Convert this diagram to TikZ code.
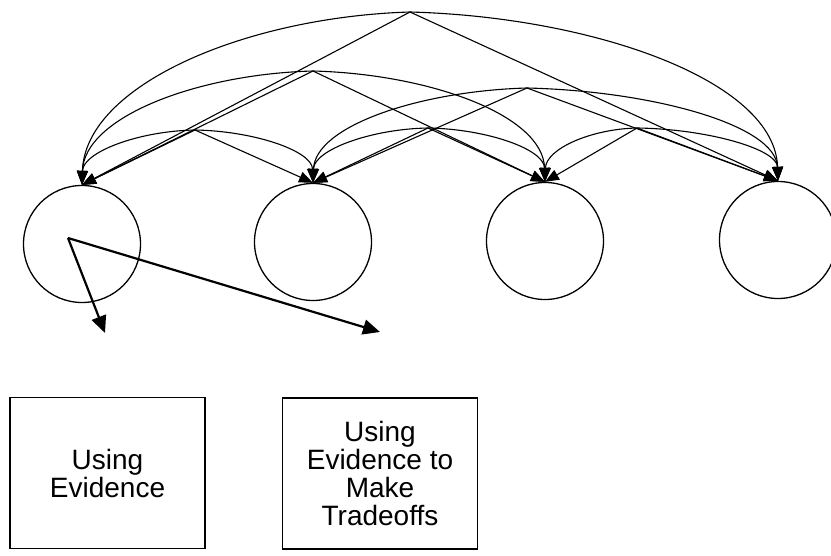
\documentclass[tikz,border=0pt]{standalone}
\usepackage{fontspec}
\setmainfont{Liberation Sans}
\usetikzlibrary{arrows.meta}
\begin{document}
\begin{tikzpicture}[x=1pt,y=1pt,
  ring/.style={circle,draw,line width=1.3pt,minimum size=117pt,inner sep=0pt},
  conn/.style={line width=1.1pt,-{Triangle[length=14pt,width=11pt]}},
  bigarrow/.style={line width=2.2pt,-{Triangle[length=17pt,width=15pt]}},
  label box/.style={draw,line width=1.5pt,minimum width=195pt,minimum height=151pt,
    align=center,inner sep=0pt,font=\fontsize{28}{28}\selectfont}]
\useasboundingbox (0,0) rectangle (831,555);
% circles
\node[ring] (c1) at (82,311) {};
\node[ring] (c2) at (313,313) {};
\node[ring] (c3) at (545,314) {};
\node[ring] (c4) at (778,315) {};
% peaks
\coordinate (p14) at (410,543);
\coordinate (p13) at (313,484);
\coordinate (p24) at (527,467);
\coordinate (p12) at (195,425);
\coordinate (p23) at (428,427);
\coordinate (p34) at (637,427);
% straight connectors
\draw[conn] (p14) -- (c1.north);
\draw[conn] (p14) -- (c4.north);
\draw[conn] (p13) -- (c1.north);
\draw[conn] (p13) -- (c3.north);
\draw[conn] (p24) -- (c2.north);
\draw[conn] (p24) -- (c4.north);
\draw[conn] (p12) -- (c1.north);
\draw[conn] (p12) -- (c2.north);
\draw[conn] (p23) -- (c2.north);
\draw[conn] (p23) -- (c3.north);
\draw[conn] (p34) -- (c3.north);
\draw[conn] (p34) -- (c4.north);
% curved connectors
\draw[conn] (p14) .. controls +(-164,-5) and +(3,100) .. (c1.north);
\draw[conn] (p14) .. controls +(184,-5) and +(-3,100) .. (c4.north);
\draw[conn] (p13) .. controls +(-115,-3) and +(2,68) .. (c1.north);
\draw[conn] (p13) .. controls +(116,-3) and +(-2,67) .. (c3.north);
\draw[conn] (p24) .. controls +(-107,-3) and +(2,57) .. (c2.north);
\draw[conn] (p24) .. controls +(125,-3) and +(-2,56) .. (c4.north);
\draw[conn] (p12) .. controls +(-56,-1) and +(1,33) .. (c1.north);
\draw[conn] (p12) .. controls +(59,-1) and +(-1,32) .. (c2.north);
\draw[conn] (p23) .. controls +(-57,-1) and +(1,33) .. (c2.north);
\draw[conn] (p23) .. controls +(58,-1) and +(-1,33) .. (c3.north);
\draw[conn] (p34) .. controls +(-46,-1) and +(1,33) .. (c3.north);
\draw[conn] (p34) .. controls +(70,-1) and +(-1,32) .. (c4.north);
% arrows out of first circle
\coordinate (src) at (68,317);
\coordinate (t1) at (105,222);
\coordinate (t2) at (380,223);
\draw[bigarrow] (src) -- (t1);
\draw[bigarrow] (src) -- (t2);
% boxes
\node[label box] (b1) at (107.5,82) {Using\\Evidence};
\node[label box] (b2) at (380,81.5) {Using\\Evidence to\\Make\\Tradeoffs};
\end{tikzpicture}
\end{document}
